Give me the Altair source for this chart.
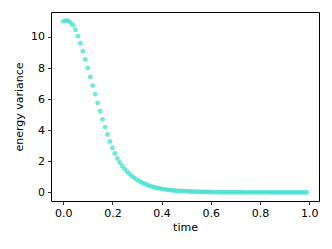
import altair as alt
import pandas as pd

time = [round(i * 0.01, 2) for i in range(100)]
energy_variance = [
    11.00, 11.05, 11.02, 10.92, 10.75, 10.45, 10.05, 9.60, 9.08, 8.55,
    8.00, 7.43, 6.87, 6.32, 5.76, 5.22, 4.70, 4.20, 3.72, 3.27,
    2.86, 2.50, 2.18, 1.92, 1.70, 1.50, 1.33, 1.18, 1.04, 0.92,
    0.81, 0.72, 0.63, 0.56, 0.49, 0.43, 0.38, 0.33, 0.29, 0.26,
    0.23, 0.20, 0.18, 0.16, 0.14, 0.12, 0.11, 0.10, 0.09, 0.08,
    0.07, 0.06, 0.055, 0.05, 0.045, 0.04, 0.035, 0.03, 0.028, 0.025,
    0.022, 0.02, 0.018, 0.016, 0.014, 0.012, 0.011, 0.01, 0.009, 0.008,
    0.007, 0.007, 0.006, 0.006, 0.005, 0.005, 0.005, 0.004, 0.004, 0.004,
    0.003, 0.003, 0.003, 0.003, 0.002, 0.002, 0.002, 0.002, 0.002, 0.001,
    0.001, 0.001, 0.001, 0.001, 0.001, 0.001, 0.0, 0.0, 0.0, 0.0,
]
x_ticks = [0.0, 0.2, 0.4, 0.6, 0.8, 1.0]
y_ticks = [0, 2, 4, 6, 8, 10]

df = pd.DataFrame({"time": time, "energy variance": energy_variance})

axis_common = dict(
    grid=False,
    domain=False,
    tickColor="black",
    tickSize=3.5,
    tickWidth=0.8,
    labelColor="black",
    labelFont="DejaVu Sans",
    labelFontSize=11,
    titleFont="DejaVu Sans",
    titleFontSize=11,
    titleFontWeight="normal",
    titleColor="black",
    labelPadding=3,
)

chart = alt.Chart(df).mark_circle(size=24, color="#40E0D0", opacity=0.75).encode(
    x=alt.X(
        "time:Q",
        scale=alt.Scale(domain=[-0.0495, 1.0395], nice=False, zero=False),
        axis=alt.Axis(values=x_ticks, format=".1f", title="time", titlePadding=3, **axis_common),
    ),
    y=alt.Y(
        "energy variance:Q",
        scale=alt.Scale(domain=[-0.5525, 11.6025], nice=False, zero=False),
        axis=alt.Axis(values=y_ticks, format="d", title="energy variance", titlePadding=6, **axis_common),
    ),
).properties(
    width=268,
    height=189,
    autosize=alt.AutoSizeParams(type="none"),
    padding={"left": 43, "top": 4, "right": 5, "bottom": 40},
).configure(
    background="white",
    view=alt.ViewConfig(stroke="black", strokeWidth=1),
)

chart.save("out.html", embed_options={"renderer": "svg", "actions": False})
